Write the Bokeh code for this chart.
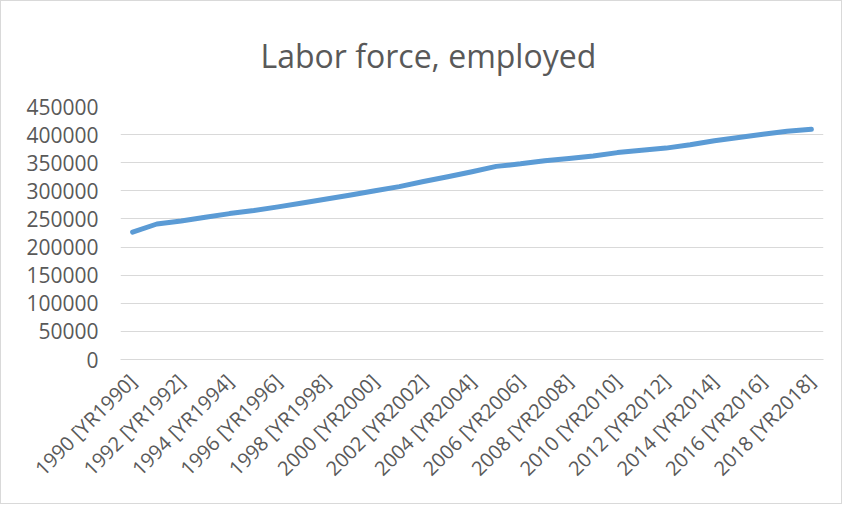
import math
from bokeh.plotting import figure
from bokeh.models import FixedTicker, Range1d, ColumnDataSource
from bokeh.embed import file_html
from bokeh.resources import INLINE

years = list(range(1990, 2019))
employed = [226500, 241000, 246500, 253000, 259500, 265000, 271500, 278500,
            285500, 292500, 300000, 307500, 316500, 325000, 334000, 343500,
            348000, 353500, 357500, 362000, 368000, 372000, 376000, 382000,
            389000, 395000, 400500, 406000, 409500]
tick_years = list(range(1990, 2019, 2))
tick_labels = {y: f"{y} [YR{y}]" for y in tick_years}
y_ticks = list(range(0, 450001, 50000))

FONT = "Open Sans"
TXT = "#595959"

p = figure(width=842, height=504, output_backend="svg", toolbar_location=None,
           x_range=Range1d(1989.5, 2018.5), y_range=Range1d(0, 450000),
           min_border_left=119, min_border_right=20, min_border_top=105,
           min_border_bottom=146)
p.styles = {"border": "1px solid #d9d9d9", "box-sizing": "border-box"}

p.title.text = "Labor force,  employed"
p.title.align = "left"
p.title.offset = 140
p.title.text_font = FONT
p.title.text_font_size = "32px"
p.title.text_font_style = "normal"
p.title.text_color = TXT
p.title.standoff = 60

p.outline_line_color = None
p.xgrid.grid_line_color = None
p.ygrid.grid_line_color = "#d9d9d9"
p.ygrid.grid_line_width = 1

p.xaxis.ticker = FixedTicker(ticks=tick_years)
p.xaxis.major_label_overrides = tick_labels
p.xaxis.major_label_orientation = math.pi / 4
p.yaxis.ticker = FixedTicker(ticks=y_ticks)
p.yaxis.formatter.use_scientific = False

for ax in (p.xaxis[0], p.yaxis[0]):
    ax.axis_line_color = None
    ax.major_tick_line_color = None
    ax.minor_tick_line_color = None
    ax.major_label_text_font = FONT
    ax.major_label_text_color = TXT
p.yaxis.major_label_text_font_size = "21px"
p.xaxis.major_label_text_font_size = "20px"
p.xaxis.axis_line_color = "#d9d9d9"
p.xaxis.major_label_standoff = 12
p.yaxis.major_label_standoff = 16

src = ColumnDataSource(dict(x=years, y=employed))
p.line("x", "y", source=src, line_color="#5B9BD5", line_width=5,
       line_cap="round", line_join="round")

open("out.html", "w").write(file_html(p, INLINE))
